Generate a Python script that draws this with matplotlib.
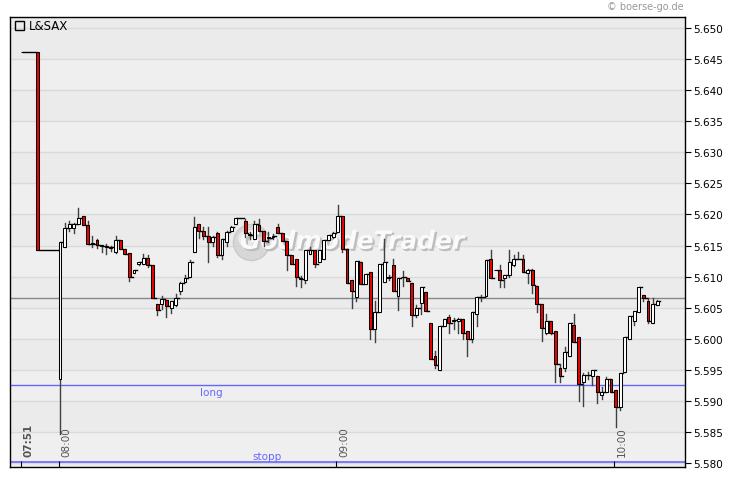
import matplotlib
matplotlib.use("Agg")
import matplotlib.pyplot as plt
from matplotlib.patches import Rectangle
import matplotlib.patheffects as pe

# minutes relative to 08:00
minutes = [-8.2, -4.9,
           0, 1, 2, 3, 4, 5, 6, 7, 8, 9, 10, 11, 12, 13, 14, 15, 16, 17, 18, 19,
           20, 21, 22, 23, 24, 25, 26, 27, 28, 29, 30, 31, 32, 33, 34, 35, 36, 37, 38,
           40, 41, 42, 43, 44, 45, 46, 47, 48, 49, 50, 51, 52, 53, 54, 55, 56, 57, 58, 59,
           60, 61, 62, 63, 64, 65, 66, 67, 68, 69, 70, 71, 72, 73, 74, 75, 76, 77, 78, 79,
           80, 81, 82, 83, 84, 85, 86, 87, 88, 89, 90, 91, 92, 93, 94, 95, 96, 97, 98, 99,
           100, 101, 102, 103, 104, 105, 106, 107, 108, 109, 110, 111, 112, 113, 114, 115,
           116, 117, 118, 119, 120, 121, 122, 123, 124, 125, 126, 127, 128, 129]
opens = [5.6461, 5.6461,
         5.5936, 5.6147, 5.6178, 5.6178, 5.6184, 5.6197, 5.6183, 5.6154, 5.6159, 5.6151, 5.6149, 5.6146, 5.6139, 5.6159, 5.6144, 5.6138, 5.6105, 5.6120, 5.6120, 5.6130,
         5.6118, 5.6056, 5.6056, 5.6063, 5.6049, 5.6055, 5.6077, 5.6091, 5.6100, 5.6139, 5.6185, 5.6174, 5.6166, 5.6155, 5.6170, 5.6134, 5.6155, 5.6174, 5.6185,
         5.6189, 5.6168, 5.6161, 5.6183, 5.6174, 5.6163, 5.6163, 5.6179, 5.6170, 5.6157, 5.6135, 5.6128, 5.6098, 5.6094, 5.6137, 5.6142, 5.6124, 5.6129, 5.6159, 5.6164,
         5.6172, 5.6197, 5.6145, 5.6095, 5.6067, 5.6124, 5.6088, 5.6108, 5.6016, 5.6043, 5.6091, 5.6097, 5.6119, 5.6069, 5.6100, 5.6097, 5.6089, 5.6038, 5.6057, 5.6075,
         5.6026, 5.5972, 5.5949, 5.6021, 5.6035, 5.6028, 5.6029, 5.6031, 5.6012, 5.6000, 5.6040, 5.6067, 5.6069, 5.6128, 5.6111, 5.6111, 5.6097, 5.6102, 5.6119, 5.6129,
         5.6129, 5.6106, 5.6111, 5.6085, 5.6056, 5.6010, 5.6029, 5.6013, 5.5953, 5.5953, 5.5972, 5.6022, 5.6002, 5.5931, 5.5942, 5.5940,
         5.5940, 5.5909, 5.5914, 5.5936, 5.5918, 5.5890, 5.5947, 5.6000, 5.6029, 5.6043, 5.6071, 5.6060, 5.6026, 5.6055]
highs = [5.6461, 5.6461,
         5.6155, 5.6186, 5.6190, 5.6186, 5.6211, 5.6197, 5.6190, 5.6165, 5.6160, 5.6151, 5.6153, 5.6149, 5.6166, 5.6159, 5.6144, 5.6138, 5.6111, 5.6124, 5.6137, 5.6134,
         5.6118, 5.6056, 5.6069, 5.6063, 5.6061, 5.6072, 5.6091, 5.6103, 5.6127, 5.6196, 5.6185, 5.6179, 5.6179, 5.6166, 5.6171, 5.6161, 5.6174, 5.6181, 5.6195,
         5.6192, 5.6172, 5.6190, 5.6192, 5.6174, 5.6172, 5.6168, 5.6185, 5.6170, 5.6157, 5.6135, 5.6128, 5.6101, 5.6142, 5.6148, 5.6142, 5.6143, 5.6159, 5.6167, 5.6172,
         5.6215, 5.6197, 5.6145, 5.6095, 5.6125, 5.6124, 5.6104, 5.6108, 5.6060, 5.6120, 5.6161, 5.6103, 5.6128, 5.6097, 5.6109, 5.6097, 5.6089, 5.6055, 5.6083, 5.6075,
         5.6026, 5.5980, 5.6021, 5.6031, 5.6038, 5.6034, 5.6033, 5.6031, 5.6012, 5.6043, 5.6067, 5.6070, 5.6126, 5.6143, 5.6111, 5.6118, 5.6102, 5.6143, 5.6135, 5.6139,
         5.6134, 5.6113, 5.6113, 5.6085, 5.6056, 5.6040, 5.6029, 5.6013, 5.5960, 5.5987, 5.6025, 5.6040, 5.6002, 5.5945, 5.5946, 5.5949,
         5.5940, 5.5922, 5.5938, 5.5936, 5.5918, 5.5945, 5.6002, 5.6036, 5.6044, 5.6084, 5.6071, 5.6066, 5.6066, 5.6062]
lows = [5.6461, 5.6142,
        5.5846, 5.6147, 5.6174, 5.6170, 5.6184, 5.6183, 5.6152, 5.6147, 5.6146, 5.6139, 5.6137, 5.6141, 5.6138, 5.6144, 5.6137, 5.6093, 5.6105, 5.6118, 5.6120, 5.6116,
        5.6065, 5.6038, 5.6048, 5.6035, 5.6042, 5.6052, 5.6072, 5.6091, 5.6100, 5.6139, 5.6162, 5.6160, 5.6124, 5.6150, 5.6131, 5.6128, 5.6150, 5.6174, 5.6185,
        5.6163, 5.6160, 5.6161, 5.6174, 5.6150, 5.6156, 5.6160, 5.6170, 5.6157, 5.6110, 5.6120, 5.6085, 5.6084, 5.6089, 5.6137, 5.6116, 5.6124, 5.6129, 5.6159, 5.6162,
        5.6172, 5.6140, 5.6090, 5.6049, 5.6060, 5.6088, 5.6088, 5.6000, 5.5995, 5.6043, 5.6091, 5.6094, 5.6076, 5.6047, 5.6085, 5.6093, 5.6020, 5.6035, 5.6040, 5.6044,
        5.5967, 5.5953, 5.5949, 5.6021, 5.6010, 5.6015, 5.6010, 5.6000, 5.5972, 5.5995, 5.6020, 5.6060, 5.6069, 5.6097, 5.6111, 5.6083, 5.6083, 5.6100, 5.6117, 5.6129,
        5.6107, 5.6090, 5.6074, 5.6043, 5.5997, 5.6008, 5.6008, 5.5931, 5.5931, 5.5948, 5.5972, 5.5994, 5.5899, 5.5892, 5.5935, 5.5925,
        5.5897, 5.5903, 5.5914, 5.5914, 5.5858, 5.5885, 5.5947, 5.6000, 5.6022, 5.6043, 5.6060, 5.6025, 5.6026, 5.6055]
closes = [5.6461, 5.6142,
          5.6155, 5.6178, 5.6184, 5.6184, 5.6195, 5.6183, 5.6152, 5.6153, 5.6151, 5.6149, 5.6148, 5.6147, 5.6159, 5.6144, 5.6137, 5.6100, 5.6111, 5.6123, 5.6130, 5.6118,
          5.6065, 5.6047, 5.6064, 5.6053, 5.6061, 5.6065, 5.6089, 5.6097, 5.6124, 5.6179, 5.6173, 5.6165, 5.6155, 5.6164, 5.6134, 5.6161, 5.6171, 5.6179, 5.6195,
          5.6170, 5.6167, 5.6185, 5.6174, 5.6157, 5.6162, 5.6166, 5.6170, 5.6157, 5.6135, 5.6120, 5.6100, 5.6096, 5.6142, 5.6142, 5.6121, 5.6143, 5.6159, 5.6167, 5.6170,
          5.6197, 5.6145, 5.6090, 5.6076, 5.6125, 5.6088, 5.6104, 5.6016, 5.6043, 5.6120, 5.6124, 5.6100, 5.6076, 5.6097, 5.6099, 5.6093, 5.6038, 5.6050, 5.6083, 5.6044,
          5.5967, 5.5958, 5.6021, 5.6031, 5.6025, 5.6030, 5.6032, 5.6010, 5.6000, 5.6043, 5.6067, 5.6067, 5.6126, 5.6097, 5.6111, 5.6095, 5.6102, 5.6123, 5.6129, 5.6129,
          5.6107, 5.6111, 5.6086, 5.6056, 5.6017, 5.6029, 5.6010, 5.5959, 5.5940, 5.5979, 5.6025, 5.5994, 5.5927, 5.5941, 5.5942, 5.5949,
          5.5914, 5.5914, 5.5936, 5.5914, 5.5890, 5.5945, 5.6002, 5.6036, 5.6044, 5.6084, 5.6066, 5.6029, 5.6056, 5.6060]

last_price = 5.6066
long_level = 5.5926
stopp_level = 5.5802
y_ticks = [5.580, 5.585, 5.590, 5.595, 5.600, 5.605, 5.610, 5.615, 5.620, 5.625,
           5.630, 5.635, 5.640, 5.645, 5.650]
x_ticks = [-8.2, 0, 60, 120]
x_labels = ["07:51", "08:00", "09:00", "10:00"]

fig = plt.figure(figsize=(7.3, 4.81), dpi=100)
ax = fig.add_axes([10 / 730, 13 / 481, 675 / 730, 450 / 481])
ax.set_xlim(-10.475, 135.3)
ax.set_ylim(5.57936, 5.65177)
ax.set_facecolor("#ededed")

# alternating background bands
for i in range(len(y_ticks) - 1):
    c = "#efefef" if i % 2 == 0 else "#ebebeb"
    ax.axhspan(y_ticks[i], y_ticks[i + 1], color=c, lw=0, zorder=0)
ax.axhspan(y_ticks[-1], 5.66, color="#ebebeb", lw=0, zorder=0)
for y in y_ticks:
    ax.axhline(y, color="#dadada", lw=1, zorder=0.5)

# watermark
ax.plot([41.6], [5.6156], "o", ms=26, color="#d2d2d2", mec="#c4c4c4", alpha=0.8, zorder=1)
ax.plot([40.6], [5.6162], "o", ms=12, color="#eeeeee", mec="none", alpha=0.8, zorder=1)
ax.text(63.4, 5.6156, "GodmodeTrader", fontsize=18, fontweight="bold", style="italic",
        color="#fafafa", ha="center", va="center", zorder=1,
        path_effects=[pe.withSimplePatchShadow(offset=(1.5, -1.5), shadow_rgbFace="#bdbdbd", alpha=1)])

w = 0.62
for i, m in enumerate(minutes):
    o, h, l, c = opens[i], highs[i], lows[i], closes[i]
    ax.plot([m + w / 2, m + w / 2], [l, h], color="#404040", lw=1, zorder=2)
    nxt = minutes[i + 1] if i + 1 < len(minutes) else m + 1
    ax.plot([m + w, nxt], [c, c], color="black", lw=1, zorder=3)
    fill = "#ee0000" if c < o else "white"
    ax.add_patch(Rectangle((m, min(o, c)), w, abs(c - o), facecolor=fill,
                           edgecolor="black", lw=0.75, zorder=4))

ax.axhline(last_price, color="#888888", lw=1, zorder=1.5)
ax.axhline(long_level, color="#6666ff", lw=1, zorder=1.5)
ax.axhline(stopp_level, color="#6666ff", lw=1.2, zorder=1.5)
ax.text(33, long_level - 0.0004, "long", color="#6666ff", fontsize=7.5, ha="center", va="top")
ax.text(45, stopp_level + 0.0002, "stopp", color="#6666ff", fontsize=7.5, ha="center", va="bottom")

# axes
ax.yaxis.tick_right()
ax.set_yticks(y_ticks)
ax.set_yticklabels(["%.3f" % v for v in y_ticks], fontsize=7.5)
ax.tick_params(axis="y", direction="out", length=4, pad=2)
ax.set_xticks(x_ticks)
ax.set_xticklabels([])
ax.tick_params(axis="x", direction="in", length=4)
for t, lab in zip(x_ticks, x_labels):
    ax.text(t + 0.6, 5.5812, lab, rotation=90, fontsize=7.5, color="#555555",
            ha="left", va="bottom", fontweight="bold" if lab == "07:51" else "normal")
for s in ax.spines.values():
    s.set_color("black")
    s.set_linewidth(1)

# legend box
fig.patches.append(Rectangle((15 / 730, 450 / 481), 9 / 730, 9 / 481, transform=fig.transFigure,
                             facecolor="none", edgecolor="black", lw=1, zorder=6))
fig.text(29 / 730, 454.5 / 481, "L&SAX", fontsize=8.5, va="center", ha="left")
fig.text(684 / 730, 474 / 481, "© boerse-go.de", fontsize=7, color="#999999", ha="right", va="center")

fig.savefig("out.png", dpi=100)
